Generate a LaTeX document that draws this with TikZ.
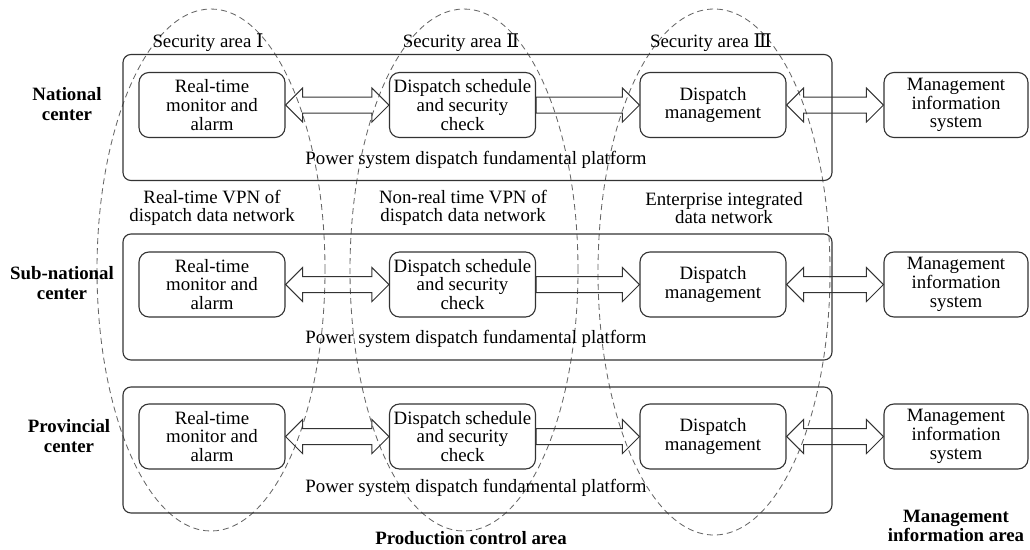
\documentclass[tikz,border=0pt]{standalone}
\usepackage{fontspec}
\setmainfont{Liberation Serif}
\newfontfamily\romanfont{DejaVu Serif}
\usepackage{tikz}
\usetikzlibrary{calc}

\begin{document}
\begin{tikzpicture}[
    font=\fontsize{13.4}{13.3}\selectfont,
    unit/.style={draw=black!80,line width=0.8pt,rounded corners=0.25cm,
        minimum width=3.65cm,minimum height=1.625cm,align=center,inner sep=0pt},
    platform/.style={draw=black!80,line width=0.8pt,rounded corners=0.2cm,
        minimum width=17.725cm,minimum height=3.15cm,inner sep=0pt},
    zone/.style={draw=black!60,line width=0.6pt,dash pattern=on 0.15cm off 0.1cm},
    level/.style={font=\fontsize{13.4}{13.6}\selectfont\bfseries,align=center},
    note/.style={align=center},
    oneway/.style={draw=black!80,line width=0.7pt,to path={
        let \p1=(\tikztostart), \p2=(\tikztotarget) in
        (\x1,\y1+0.2cm) -- (\x2-0.425cm,\y1+0.2cm) -- (\x2-0.425cm,\y1+0.425cm)
        -- (\x2,\y1) -- (\x2-0.425cm,\y1-0.425cm) -- (\x2-0.425cm,\y1-0.2cm)
        -- (\x1,\y1-0.2cm) -- cycle}},
    twoway/.style={draw=black!80,line width=0.7pt,to path={
        let \p1=(\tikztostart), \p2=(\tikztotarget) in
        (\x1,\y1) -- (\x1+0.425cm,\y1+0.425cm) -- (\x1+0.425cm,\y1+0.2cm)
        -- (\x2-0.425cm,\y1+0.2cm) -- (\x2-0.425cm,\y1+0.425cm) -- (\x2,\y1)
        -- (\x2-0.425cm,\y1-0.425cm) -- (\x2-0.425cm,\y1-0.2cm)
        -- (\x1+0.425cm,\y1-0.2cm) -- (\x1+0.425cm,\y1-0.425cm) -- cycle}}
]
    \useasboundingbox (0,0) rectangle (25.75,-13.725);

    % security areas
    \draw[zone] (5.275,-6.75) ellipse [x radius=2.85cm,y radius=6.525cm];
    \draw[zone] (11.6,-6.75) ellipse [x radius=2.85cm,y radius=6.525cm];
    \draw[zone] (17.85,-6.8) ellipse [x radius=2.9cm,y radius=6.575cm];
    \node (areaA) at (5.2,-1.075) {Security area {\romanfont Ⅰ}};
    \node (areaB) at (11.525,-1.075) {Security area {\romanfont Ⅱ}};
    \node (areaC) at (17.775,-1.075) {Security area {\romanfont Ⅲ}};

    % national center
    \node[level] (nat) at (1.675,-2.6) {National\\center};
    \node[platform] (plat1) at (11.9375,-2.9375) {};
    \node[unit] (alarm1) at (5.3,-2.625) {Real-time\\monitor and\\alarm};
    \node[unit] (sched1) at (11.5625,-2.625) {Dispatch schedule\\and security\\check};
    \node[unit] (manage1) at (17.825,-2.625) {Dispatch\\management};
    \node[unit,minimum width=3.6cm] (info1) at (23.9,-2.625)
        {Management\\information\\system};
    \node (base1) at (11.9,-4.0) {Power system dispatch fundamental platform};
    \draw[twoway] (alarm1.east) to (sched1.west);
    \draw[oneway] (sched1.east) to (manage1.west);
    \draw[twoway] (manage1.east) to (info1.west);

    \node[note] (netA) at (5.3,-5.2) {Real-time VPN of\\dispatch data network};
    \node[note] (netB) at (11.575,-5.2) {Non-real time VPN of\\dispatch data network};
    \node[note] (netC) at (18.1,-5.2) {Enterprise integrated\\data network};

    % sub-national center
    \node[level] (sub) at (1.55,-7.075) {Sub-national\\center};
    \node[platform] (plat2) at (11.9375,-7.425) {};
    \node[unit] (alarm2) at (5.3,-7.1125) {Real-time\\monitor and\\alarm};
    \node[unit] (sched2) at (11.5625,-7.1125) {Dispatch schedule\\and security\\check};
    \node[unit] (manage2) at (17.825,-7.1125) {Dispatch\\management};
    \node[unit,minimum width=3.6cm] (info2) at (23.9,-7.1125)
        {Management\\information\\system};
    \node (base2) at (11.9,-8.475) {Power system dispatch fundamental platform};
    \draw[twoway] (alarm2.east) to (sched2.west);
    \draw[oneway] (sched2.east) to (manage2.west);
    \draw[twoway] (manage2.east) to (info2.west);

    % provincial center
    \node[level] (pro) at (1.725,-10.9) {Provincial\\center};
    \node[platform] (plat3) at (11.9375,-11.25) {};
    \node[unit] (alarm3) at (5.3,-10.9125) {Real-time\\monitor and\\alarm};
    \node[unit] (sched3) at (11.5625,-10.9125) {Dispatch schedule\\and security\\check};
    \node[unit] (manage3) at (17.825,-10.9125) {Dispatch\\management};
    \node[unit,minimum width=3.6cm] (info3) at (23.9,-10.9125)
        {Management\\information\\system};
    \node (base3) at (11.9,-12.2) {Power system dispatch fundamental platform};
    \draw[twoway] (alarm3.east) to (sched3.west);
    \draw[oneway] (sched3.east) to (manage3.west);
    \draw[twoway] (manage3.east) to (info3.west);

    \node[level] (prod) at (11.775,-13.45) {Production control area};
    \node[level] (mgmt) at (23.9,-13.15) {Management\\information area};
\end{tikzpicture}
\end{document}
